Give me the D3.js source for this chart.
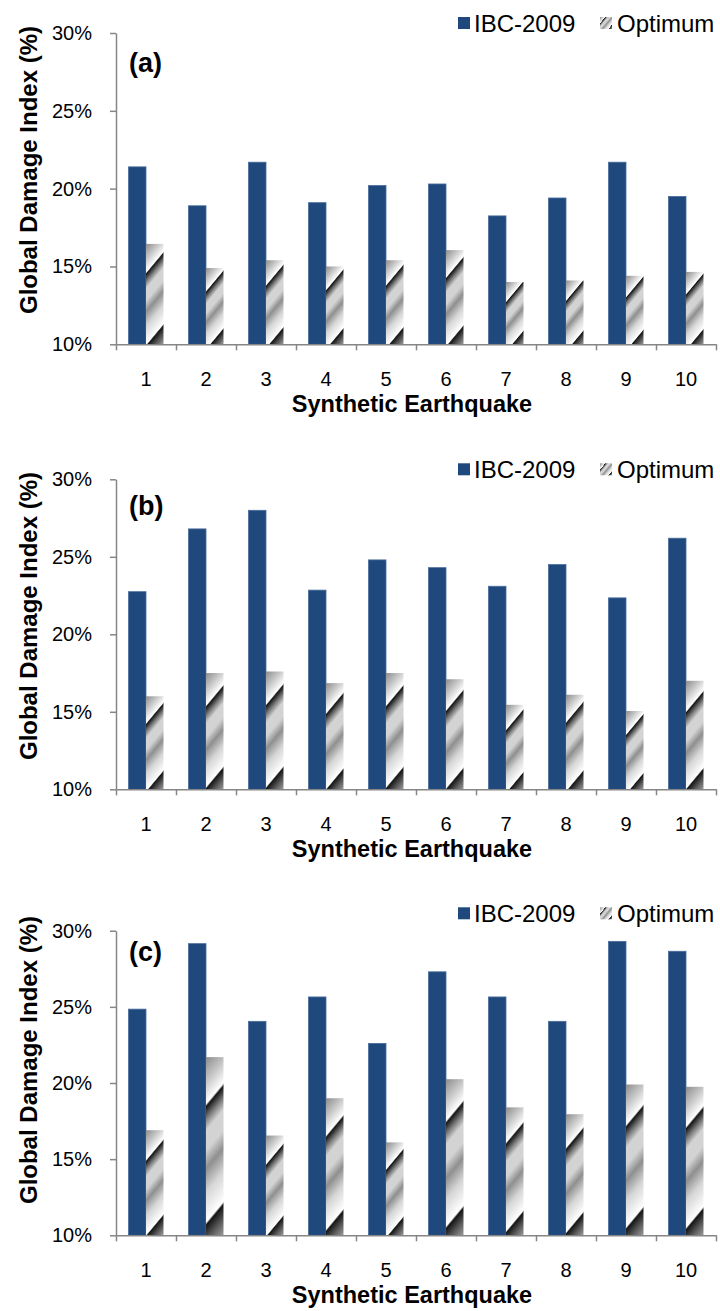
<!DOCTYPE html>
<html lang="en">
<head>
<meta charset="utf-8">
<title>Global Damage Index - IBC-2009 vs Optimum</title>
<script src="https://d3js.org/d3.v7.min.js"></script>
<style>
body { margin: 0; background: #fff; }
text { font-family: "Liberation Sans", Arial, sans-serif; fill: #000; }
.axis path, .axis line { stroke: #868686; stroke-width: 1.5; }
</style>
</head>
<body>
<div id="chart"></div>
<script>

// ---- data ----
var categories = ["1", "2", "3", "4", "5", "6", "7", "8", "9", "10"];
var seriesNames = ["IBC-2009", "Optimum"];
var yTicks = [10, 15, 20, 25, 30];
var panelLabels = ["(a)", "(b)", "(c)"];

var ibcA = [21.4, 18.9, 21.7, 19.1, 20.2, 20.3, 18.25, 19.4, 21.7, 19.5];
var optA = [16.45, 14.9, 15.4, 15.0, 15.4, 16.05, 14.0, 14.1, 14.4, 14.65];

var ibcB = [22.75, 26.8, 28.0, 22.85, 24.8, 24.3, 23.1, 24.5, 22.35, 26.2];
var optB = [16.0, 17.5, 17.6, 16.85, 17.5, 17.1, 15.45, 16.1, 15.05, 17.0];

var ibcC = [24.85, 29.15, 24.05, 25.65, 22.6, 27.3, 25.65, 24.05, 29.3, 28.65];
var optC = [16.9, 21.7, 16.55, 19.0, 16.1, 20.25, 18.4, 17.95, 19.9, 19.75];

// ---- layout ----
var W = 720, H = 1311;
var plotLeft = 116, plotRight = 716;
var panels = [
  {ibc: ibcA, opt: optA, top: 33,    bottom: 344.3,  legendY: 23,    titleY: 170,  labelY: 72},
  {ibc: ibcB, opt: optB, top: 479.3, bottom: 789.3,  legendY: 469.3, titleY: 616,  labelY: 515},
  {ibc: ibcC, opt: optC, top: 930.7, bottom: 1235.3, legendY: 913.3, titleY: 1060, labelY: 961}
];
var blue = "#1f497d";

// chrome-like gradient stops used by the Optimum bars
var chromeStops = [
  [0.00, "#8c8c8c"], [0.12, "#c4c4c4"], [0.235, "#ffffff"], [0.25, "#151515"],
  [0.31, "#7c7c7c"], [0.37, "#d3d3d3"], [0.47, "#d3d3d3"], [0.56, "#8f8f8f"],
  [0.68, "#d6d6d6"], [0.83, "#ffffff"], [0.845, "#151515"], [0.92, "#5c5c5c"],
  [1.00, "#9c9c9c"]
];

var svg = d3.select("#chart").append("svg")
  .attr("width", W)
  .attr("height", H);
var defs = svg.append("defs");

// gradient in the user space of the shape, stripes rising left to right
var gid = 0;
function chromeFill(x, y, w, h) {
  var nx = 1.2, ny = 1, nl = Math.sqrt(nx * nx + ny * ny);
  nx /= nl; ny /= nl;
  var L = w * nx + h * ny;
  var id = "chrome" + (gid++);
  var g = defs.append("linearGradient")
    .attr("id", id)
    .attr("gradientUnits", "userSpaceOnUse")
    .attr("x1", x).attr("y1", y)
    .attr("x2", x + nx * L).attr("y2", y + ny * L);
  chromeStops.forEach(function(s) {
    g.append("stop").attr("offset", s[0]).attr("stop-color", s[1]);
  });
  return "url(#" + id + ")";
}

var x0 = d3.scaleBand()
  .domain(categories)
  .range([plotLeft, plotRight])
  .paddingInner(25 / 60)
  .paddingOuter(12.5 / 60);
var x1 = d3.scaleBand()
  .domain(seriesNames)
  .range([0, x0.bandwidth()]);
var xEdge = d3.scaleLinear()
  .domain([0, categories.length])
  .range([plotLeft, plotRight]);

panels.forEach(function(p, pi) {
  var y = d3.scaleLinear().domain([10, 30]).range([p.bottom, p.top]);
  var g = svg.append("g");

  // bars (groups are translated, so gradients use local x)
  var rows = categories.map(function(c, i) {
    return {cat: c, vals: [{key: seriesNames[0], v: p.ibc[i]}, {key: seriesNames[1], v: p.opt[i]}]};
  });
  g.selectAll("g.grp")
    .data(rows)
    .enter().append("g")
      .attr("class", "grp")
      .attr("transform", function(d) { return "translate(" + x0(d.cat) + ",0)"; })
    .selectAll("rect")
    .data(function(d) { return d.vals; })
    .enter().append("rect")
      .attr("x", function(d) { return x1(d.key); })
      .attr("y", function(d) { return y(d.v); })
      .attr("width", x1.bandwidth())
      .attr("height", function(d) { return y(10) - y(d.v); })
      .attr("fill", function(d) {
        if (d.key == seriesNames[0]) return blue;
        return chromeFill(x1(d.key), y(d.v), x1.bandwidth(), y(10) - y(d.v));
      })
      .attr("stroke", function(d) { return d.key == seriesNames[0] ? "#4a6d9c" : "none"; })
      .attr("stroke-width", 0.8);

  // y axis
  var ya = g.append("g")
    .attr("class", "axis")
    .attr("transform", "translate(" + plotLeft + ",0)")
    .call(d3.axisLeft(y).tickValues(yTicks).tickFormat(function(d) { return d + "%"; })
      .tickSize(6).tickSizeOuter(0).tickPadding(18));
  ya.selectAll("text").attr("font-size", 20).attr("font-family", "Liberation Sans, Arial, sans-serif").style("fill", "#000");

  // x axis: boundary ticks
  g.append("g")
    .attr("class", "axis")
    .attr("transform", "translate(0," + p.bottom + ")")
    .call(d3.axisBottom(xEdge).tickValues(d3.range(0, categories.length + 1))
      .tickFormat("").tickSize(6).tickSizeOuter(0));

  // x category labels
  var xl = g.append("g")
    .attr("transform", "translate(0," + p.bottom + ")")
    .call(d3.axisBottom(x0).tickSize(0).tickPadding(28));
  xl.select(".domain").remove();
  xl.selectAll("text").attr("font-size", 20).attr("font-family", "Liberation Sans, Arial, sans-serif").style("fill", "#000");

  // axis titles
  g.append("text")
    .attr("transform", "translate(28," + p.titleY + ") rotate(-90)")
    .attr("text-anchor", "middle")
    .attr("dy", "0.36em")
    .attr("font-weight", "bold")
    .attr("font-size", 24)
    .text("Global Damage Index (%)");

  g.append("text")
    .attr("x", 412)
    .attr("y", p.bottom + 67.7)
    .attr("text-anchor", "middle")
    .attr("font-weight", "bold")
    .attr("font-size", 23.5)
    .text("Synthetic Earthquake");

  // panel label
  g.append("text")
    .attr("x", 129)
    .attr("y", p.labelY)
    .attr("font-weight", "bold")
    .attr("font-size", 27)
    .text(panelLabels[pi]);

  // legend
  g.append("rect").attr("x", 458).attr("y", p.legendY - 6).attr("width", 12).attr("height", 12).attr("fill", blue);
  g.append("text").attr("x", 474).attr("y", p.legendY + 8.5).attr("font-size", 24).text(seriesNames[0]);
  g.append("rect").attr("x", 600).attr("y", p.legendY - 6).attr("width", 12).attr("height", 12)
    .attr("fill", chromeFill(600, p.legendY - 6, 12, 12));
  g.append("text").attr("x", 617).attr("y", p.legendY + 8.5).attr("font-size", 24).text(seriesNames[1]);
});

</script>
</body>
</html>
